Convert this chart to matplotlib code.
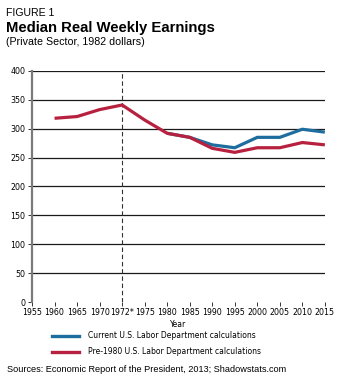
import matplotlib
matplotlib.use("Agg")
import matplotlib.pyplot as plt

# Categorical x axis (evenly spaced ticks, as printed)
tick_labels = ["1955", "1960", "1965", "1970", "1972*", "1975", "1980", "1985",
               "1990", "1995", "2000", "2005", "2010", "2015"]

# Pre-1980 methodology series (1960 onward)
pre1980_years = ["1960", "1965", "1970", "1972*", "1975", "1980", "1985",
                 "1990", "1995", "2000", "2005", "2010", "2015"]
pre1980_values = [318, 321, 333, 341, 315, 292, 285, 266, 259, 267, 267, 276, 272]

# Current methodology series
current_years = ["1980", "1985", "1990", "1995", "2000", "2005", "2010", "2015"]
current_values = [292, 285, 272, 267, 285, 285, 299, 294]

y_ticks = [0, 50, 100, 150, 200, 250, 300, 350, 400]

BLUE = "#1d6d9f"
RED = "#b7213f"

fig = plt.figure(figsize=(3.37, 3.82), dpi=100)
fig.patch.set_facecolor("white")

title_font = ["Liberation Sans", "DejaVu Sans"]
fig.text(0.018, 0.966, "FIGURE 1", fontsize=7.6, family=title_font, va="center")
fig.text(0.018, 0.928, "Median Real Weekly Earnings", fontsize=10.7, fontweight="bold",
         family=title_font, va="center")
fig.text(0.018, 0.890, "(Private Sector, 1982 dollars)", fontsize=7.7,
         family=title_font, va="center")

ax = fig.add_axes([0.095, 0.2094, 0.869, 0.605])
pos = {lab: i for i, lab in enumerate(tick_labels)}

ax.set_xlim(0, len(tick_labels) - 1)
ax.set_ylim(0, 400)

# Horizontal gridlines
ax.hlines([v for v in y_ticks if v > 0], 0, len(tick_labels) - 1,
          colors="#1a1a1a", linewidth=0.9, zorder=1)
# Dashed marker line at 1972
ax.axvline(pos["1972*"], color="#333333", linewidth=0.8, linestyle=(0, (4, 2.5)), zorder=1)

ax.plot([pos[y] for y in current_years], current_values, color=BLUE,
        linewidth=2.3, solid_capstyle="butt", solid_joinstyle="miter", zorder=3)
ax.plot([pos[y] for y in pre1980_years], pre1980_values, color=RED,
        linewidth=2.3, solid_capstyle="butt", solid_joinstyle="miter", zorder=4)

for side in ["top", "right", "bottom"]:
    ax.spines[side].set_visible(False)
ax.spines["left"].set_color("#7a7a7a")
ax.spines["left"].set_linewidth(1.6)

ax.set_xticks(range(len(tick_labels)))
ax.set_xticklabels(tick_labels)
ax.set_yticks(y_ticks)
ax.tick_params(axis="both", labelsize=5.7, length=3, width=0.7, color="#333333", pad=1.5)
ax.tick_params(axis="y", pad=2)
ax.set_xlabel("Year", fontsize=5.5, labelpad=2)

# Legend drawn in figure space below the axes
fig.add_artist(plt.Line2D([0.155, 0.235], [0.121, 0.121], color=BLUE, linewidth=2.4,
                          transform=fig.transFigure))
fig.add_artist(plt.Line2D([0.155, 0.235], [0.079, 0.079], color=RED, linewidth=2.4,
                          transform=fig.transFigure))
fig.text(0.26, 0.121, "Current U.S. Labor Department calculations", fontsize=5.5,
         va="center")
fig.text(0.26, 0.079, "Pre-1980 U.S. Labor Department calculations", fontsize=5.5,
         va="center")

fig.text(0.022, 0.034, "Sources: Economic Report of the President, 2013; Shadowstats.com",
         fontsize=6.6, family=title_font, va="center")

fig.savefig("out.png", dpi=100, facecolor="white")
